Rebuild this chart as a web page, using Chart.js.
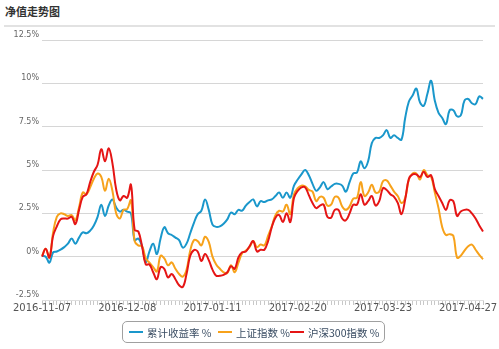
<!DOCTYPE html>
<html>
<head>
<meta charset="utf-8">
<script src="https://cdn.jsdelivr.net/npm/chart.js@4.4.1/dist/chart.umd.min.js"></script>
<style>
  html, body { margin: 0; padding: 0; background: #fff; }
  #wrap { position: relative; width: 499px; height: 349px; overflow: hidden; }
  #title { position: absolute; left: 5px; top: 3px; font: bold 11px "Noto Sans CJK SC", sans-serif; color: #333; }
  #rule { position: absolute; left: 4px; right: 4px; top: 25px; height: 2px; background: #e2e2e2; }
  #chart { position: absolute; left: 0; top: 0; }
  #legend { position: absolute; left: 122px; top: 321px; width: 263px; height: 22px; box-sizing: border-box;
            border: 1px solid #a0a0a0; border-radius: 5px; }
  .item { position: absolute; top: 0; height: 20px; display: flex; align-items: center;
          font: 10.5px "Noto Sans CJK SC", sans-serif; color: #3a4d63; white-space: nowrap; }
  .swatch { width: 14px; height: 2px; margin-right: 4px; }
</style>
</head>
<body>
<div id="wrap">
  <div id="title">净值走势图</div>
  <div id="rule"></div>
  <canvas id="chart" width="499" height="349"></canvas>
  <div id="legend"></div>
</div>
<script>
// Trading days, 2016-11-07 .. 2017-05-04
const tradeDays = [
  '2016-11-07','2016-11-08','2016-11-09','2016-11-10','2016-11-11','2016-11-14','2016-11-15','2016-11-16','2016-11-17','2016-11-18',
  '2016-11-21','2016-11-22','2016-11-23','2016-11-24','2016-11-25','2016-11-28','2016-11-29','2016-11-30',
  '2016-12-01','2016-12-02','2016-12-05','2016-12-06','2016-12-07','2016-12-08','2016-12-09','2016-12-12','2016-12-13','2016-12-14',
  '2016-12-15','2016-12-16','2016-12-19','2016-12-20','2016-12-21','2016-12-22','2016-12-23','2016-12-26','2016-12-27','2016-12-28',
  '2016-12-29','2016-12-30',
  '2017-01-03','2017-01-04','2017-01-05','2017-01-06','2017-01-09','2017-01-10','2017-01-11','2017-01-12','2017-01-13','2017-01-16',
  '2017-01-17','2017-01-18','2017-01-19','2017-01-20','2017-01-23','2017-01-24','2017-01-25','2017-01-26',
  '2017-02-03','2017-02-06','2017-02-07','2017-02-08','2017-02-09','2017-02-10','2017-02-13','2017-02-14','2017-02-15','2017-02-16',
  '2017-02-17','2017-02-20','2017-02-21','2017-02-22','2017-02-23','2017-02-24','2017-02-27','2017-02-28',
  '2017-03-01','2017-03-02','2017-03-03','2017-03-06','2017-03-07','2017-03-08','2017-03-09','2017-03-10','2017-03-13','2017-03-14',
  '2017-03-15','2017-03-16','2017-03-17','2017-03-20','2017-03-21','2017-03-22','2017-03-23','2017-03-24','2017-03-27','2017-03-28',
  '2017-03-29','2017-03-30','2017-03-31',
  '2017-04-05','2017-04-06','2017-04-07','2017-04-10','2017-04-11','2017-04-12','2017-04-13','2017-04-14','2017-04-17','2017-04-18',
  '2017-04-19','2017-04-20','2017-04-21','2017-04-24','2017-04-25','2017-04-26','2017-04-27','2017-04-28',
  '2017-05-02','2017-05-03','2017-05-04'
];

// Dates printed under the x axis
const xTickLabels = ['2016-11-07','2016-12-08','2017-01-11','2017-02-20','2017-03-23','2017-04-27'];

// Percent levels on the y axis
const yTicks = [-2.5, 0, 2.5, 5, 7.5, 10, 12.5];

const seriesNames = ['累计收益率 %', '上证指数 %', '沪深300指数 %'];
const seriesColors = ['#1a97cb', '#f7a21b', '#e51515'];

// 累计收益率 (%)
const fundReturn = [
  0.05, 0.0, -0.35, 0.25, 0.3, 0.4, 0.55, 0.75, 1.05, 0.75,
  1.1, 1.4, 1.35, 1.5, 1.8, 2.3, 3.0, 2.35, 2.95, 3.3,
  2.85, 2.6, 2.7, 2.6, 2.5, 0.95, 1.05, 0.6, -0.3, 0.3,
  0.75, 0.15, 1.05, 1.7, 1.35, 1.25, 1.1, 0.95, 0.52, 0.75,
  1.35, 1.95, 2.45, 2.65, 3.3, 2.7, 1.85, 1.72, 1.75, 1.9,
  2.15, 2.55, 2.45, 2.7, 2.65, 2.95, 3.15, 3.3, 2.9, 3.2,
  3.15, 3.25, 3.3, 3.5, 3.7, 3.4, 3.7, 3.4, 4.1, 4.45,
  4.75, 5.0, 4.7, 4.2, 3.8, 4.0, 4.3, 3.9, 4.05, 4.2,
  4.2, 4.1, 3.75, 4.3, 4.8, 4.85, 5.5, 5.1, 5.5, 6.55,
  6.85, 6.85, 7.0, 7.3, 6.85, 7.0, 6.85, 6.75, 8.0, 8.95,
  9.3, 9.7, 8.9, 8.7, 9.4, 10.15, 9.0, 8.3, 8.0, 7.65,
  8.45, 8.45, 8.1, 8.15, 9.0, 9.1, 8.85, 8.8, 9.25, 9.1
];

// 上证指数 (%)
const shIndex = [
  0.05, 0.45, -0.05, 1.4, 2.3, 2.5, 2.45, 2.35, 2.4, 2.1,
  2.85, 3.7, 3.6, 4.0, 4.5, 4.8, 4.6, 3.8, 4.5, 3.8,
  2.5, 2.2, 2.7, 2.75, 3.25, 0.9, 0.65, 0.6, -0.1, -0.35,
  -0.6, -0.85, 0.05, -0.1, -0.5, -0.33, -0.7, -1.0, -1.15, -0.75,
  0.35, 0.95, 0.9, 0.65, 1.15, 0.85, 0.0, -0.45, -0.7, -0.9,
  -0.95, -0.5, -0.9, -0.35, 0.2, 0.35, 0.55, 0.9, 0.55, 0.7,
  0.65, 1.2, 1.75, 2.4, 2.65, 2.6, 3.0, 2.45, 3.6, 3.95,
  4.1, 4.05, 3.85, 3.75, 3.2, 3.45, 3.4, 2.95, 3.0, 3.45,
  3.4, 2.9, 2.7, 2.9, 3.35, 3.4, 4.3, 3.5, 3.7, 4.15,
  3.7, 3.75, 4.35, 4.4, 4.1, 3.75, 3.5, 3.1, 3.4, 4.45,
  4.8, 4.8, 4.45, 5.0, 4.7, 4.6, 3.7, 2.8, 1.7, 1.25,
  1.3, 1.2, -0.05, 0.05, 0.35, 0.6, 0.7, 0.4, 0.1, -0.15
];

// 沪深300指数 (%)
const hs300Index = [
  0.0, 0.45, -0.05, 1.2, 1.75, 2.15, 2.2, 2.2, 2.3, 1.88,
  2.7, 3.45, 3.6, 4.3, 4.9, 5.3, 6.2, 5.5, 6.25, 5.4,
  3.9, 3.25, 3.5, 3.4, 4.15, 1.55, 1.45, 0.6, -0.45, -0.45,
  -0.9, -1.3, -0.6, -0.7, -1.2, -1.0, -1.3, -1.65, -1.75, -1.0,
  0.05, 0.38, 0.3, -0.25, 0.15, -0.2, -0.75, -1.1, -1.1, -1.05,
  -0.9, -0.55, -0.7, -0.05, 0.25, 0.3, 0.6, 0.9, 0.3, 0.4,
  0.4, 0.9, 1.7, 2.25, 2.4, 2.0, 2.5, 2.0, 3.4, 3.8,
  4.0, 4.0, 3.55, 3.1, 2.8, 2.95, 3.0, 2.3, 2.25, 2.7,
  2.7, 2.2, 2.1, 2.5, 3.0, 3.0, 3.6, 3.0, 3.2, 3.5,
  2.95, 3.2, 3.95, 3.85, 3.6, 3.45, 3.1, 2.45, 3.3, 4.5,
  4.75, 4.75, 4.6, 4.9, 4.6, 4.7, 3.9, 3.5, 3.1, 2.7,
  3.25, 3.2, 2.35, 2.6, 2.7, 2.7, 2.5, 2.2, 1.8, 1.45
];

const seriesData = [fundReturn, shIndex, hs300Index];

// Later series are painted over earlier ones
const datasets = seriesData.map((values, i) => ({
  label: seriesNames[i],
  data: values,
  borderColor: seriesColors[i],
  backgroundColor: seriesColors[i],
  borderWidth: 2,
  pointRadius: 0,
  tension: 0.4,
  fill: false,
  order: seriesData.length - i
}));

new Chart(document.getElementById('chart'), {
  type: 'line',
  data: { labels: tradeDays, datasets },
  options: {
    responsive: false,
    animation: false,
    layout: { padding: { left: 0, right: 16, top: 40, bottom: 31 } },
    plugins: { legend: { display: false }, tooltip: { enabled: false } },
    scales: {
      x: {
        grid: { drawOnChartArea: false, drawTicks: true, tickLength: 5, color: '#c8c8c8' },
        border: { display: true, color: '#dedede' },
        ticks: {
          autoSkip: false, maxRotation: 0, minRotation: 0, padding: -3,
          font: { family: 'DejaVu Sans', size: 10 }, color: '#555',
          callback: (v, i) => xTickLabels.includes(tradeDays[i]) ? tradeDays[i] : ''
        },
        afterFit: s => { s.height = 18; }
      },
      y: {
        min: yTicks[0], max: yTicks[yTicks.length - 1],
        afterBuildTicks: s => { s.ticks = yTicks.map(v => ({ value: v })); },
        grid: { color: '#d6d6d6', drawTicks: false },
        border: { display: false },
        ticks: {
          padding: 3, labelOffset: -5,
          font: { family: 'DejaVu Sans', size: 8 }, color: '#666',
          callback: v => v + '%'
        },
        afterFit: s => { s.width = 42; }
      }
    }
  }
});

// Legend row
const legendPos = [6, 95, 167];
const legend = document.getElementById('legend');
seriesNames.forEach((name, i) => {
  const item = document.createElement('div');
  item.className = 'item';
  item.style.left = legendPos[i] + 'px';
  const sw = document.createElement('span');
  sw.className = 'swatch';
  sw.style.background = seriesColors[i];
  const tx = document.createElement('span');
  tx.textContent = name;
  item.appendChild(sw);
  item.appendChild(tx);
  legend.appendChild(item);
});
</script>
</body>
</html>
